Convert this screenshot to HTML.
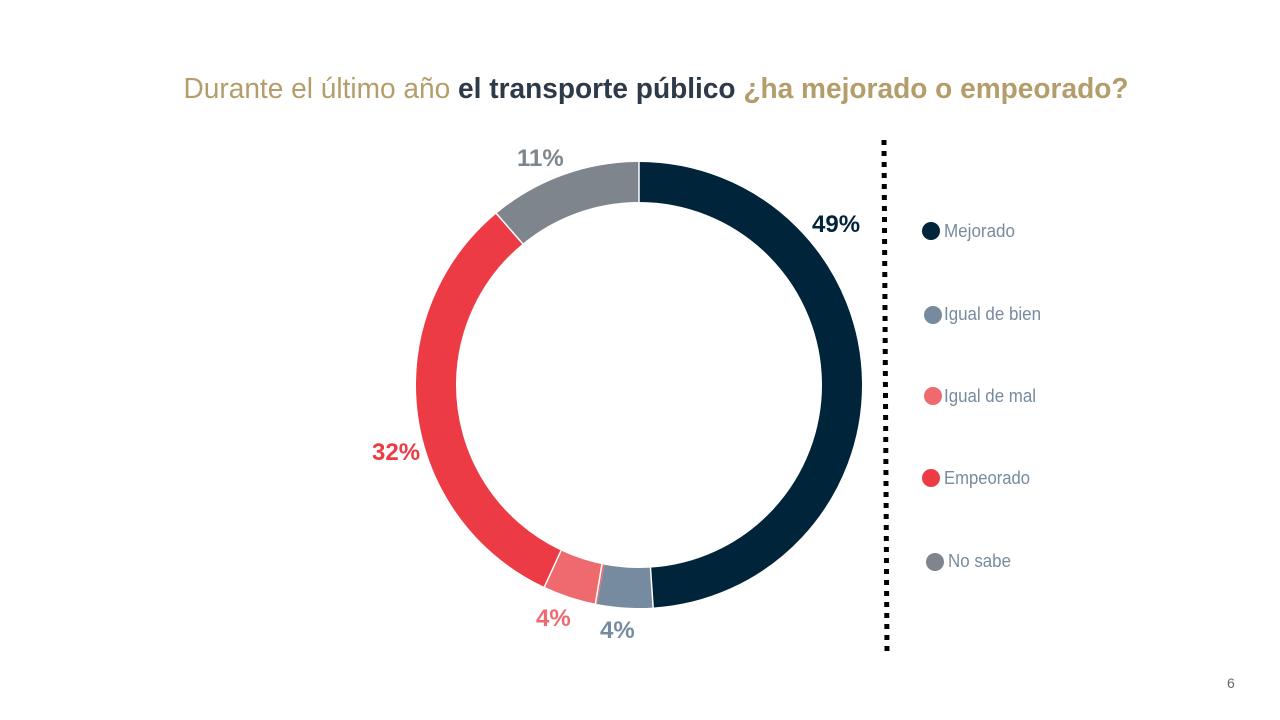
<!DOCTYPE html>
<html><head><meta charset="utf-8"><style>
body{margin:0;width:1280px;height:720px;background:#fff;overflow:hidden;font-family:"Liberation Sans Narrow","Liberation Sans",sans-serif;}
</style></head><body>
<svg width="1280" height="720" xmlns="http://www.w3.org/2000/svg" style="position:absolute;left:0;top:0">
<text x="656" y="98" text-anchor="middle" font-size="29" font-family="Liberation Sans Narrow, Liberation Sans, sans-serif" textLength="945" lengthAdjust="spacingAndGlyphs"><tspan fill="#b39e6b">Durante el último año </tspan><tspan fill="#2e3a48" font-weight="bold">el transporte público </tspan><tspan fill="#b39e6b" font-weight="bold">¿ha mejorado o empeorado?</tspan></text>
<g transform="rotate(-90 639 385)" fill="none" stroke-width="40">
<circle cx="639" cy="385" r="203" stroke="#00243a" stroke-dasharray="625.0 1275.5" stroke-dashoffset="0"/>
<circle cx="639" cy="385" r="203" stroke="#768b9f" stroke-dasharray="51.0 1275.5" stroke-dashoffset="-625.0"/>
<circle cx="639" cy="385" r="203" stroke="#ef6a6e" stroke-dasharray="51.0 1275.5" stroke-dashoffset="-676.0"/>
<circle cx="639" cy="385" r="203" stroke="#ec3b44" stroke-dasharray="408.2 1275.5" stroke-dashoffset="-727.0"/>
<circle cx="639" cy="385" r="203" stroke="#7e858c" stroke-dasharray="140.3 1275.5" stroke-dashoffset="-1135.2"/>
</g>
<g stroke="#fff" stroke-width="1.5">
<line x1="639" y1="160" x2="639" y2="204"/>
<line x1="650.3" y1="565" x2="653.3" y2="610"/>
<line x1="602.1" y1="563.5" x2="595.2" y2="605"/>
<line x1="560.9" y1="550.8" x2="543" y2="590"/>
<line x1="523.6" y1="244.7" x2="495" y2="212"/>
</g>
<g font-weight="bold" font-size="24" font-family="Liberation Sans Narrow, Liberation Sans, sans-serif">
<text x="812" y="232" fill="#00243a">49%</text>
<text x="517" y="166" fill="#7e858c">11%</text>
<text x="372" y="460" fill="#ec3b44">32%</text>
<text x="536" y="626" fill="#ef6a6e">4%</text>
<text x="600" y="638" fill="#768b9f">4%</text>
</g>
<line x1="884" y1="140" x2="887" y2="655" stroke="#000" stroke-width="5" stroke-dasharray="5 6"/>
<g font-size="18" fill="#768b9f" font-family="Liberation Sans Narrow, Liberation Sans, sans-serif">
<circle cx="931" cy="231" r="9" fill="#00243a"/><text x="944" y="237" textLength="71" lengthAdjust="spacingAndGlyphs">Mejorado</text>
<circle cx="933" cy="315" r="9" fill="#768b9f"/><text x="944" y="320" textLength="97" lengthAdjust="spacingAndGlyphs">Igual de bien</text>
<circle cx="933" cy="396" r="9" fill="#ef6a6e"/><text x="944" y="402" textLength="92" lengthAdjust="spacingAndGlyphs">Igual de mal</text>
<circle cx="931" cy="478" r="9" fill="#ec3b44"/><text x="944" y="484" textLength="86" lengthAdjust="spacingAndGlyphs">Empeorado</text>
<circle cx="935" cy="562" r="9" fill="#7e858c"/><text x="948" y="567" textLength="63" lengthAdjust="spacingAndGlyphs">No sabe</text>
</g>
<text x="1227" y="688" font-size="14" fill="#666" font-family="Liberation Sans, sans-serif">6</text>
</svg>
</body></html>
